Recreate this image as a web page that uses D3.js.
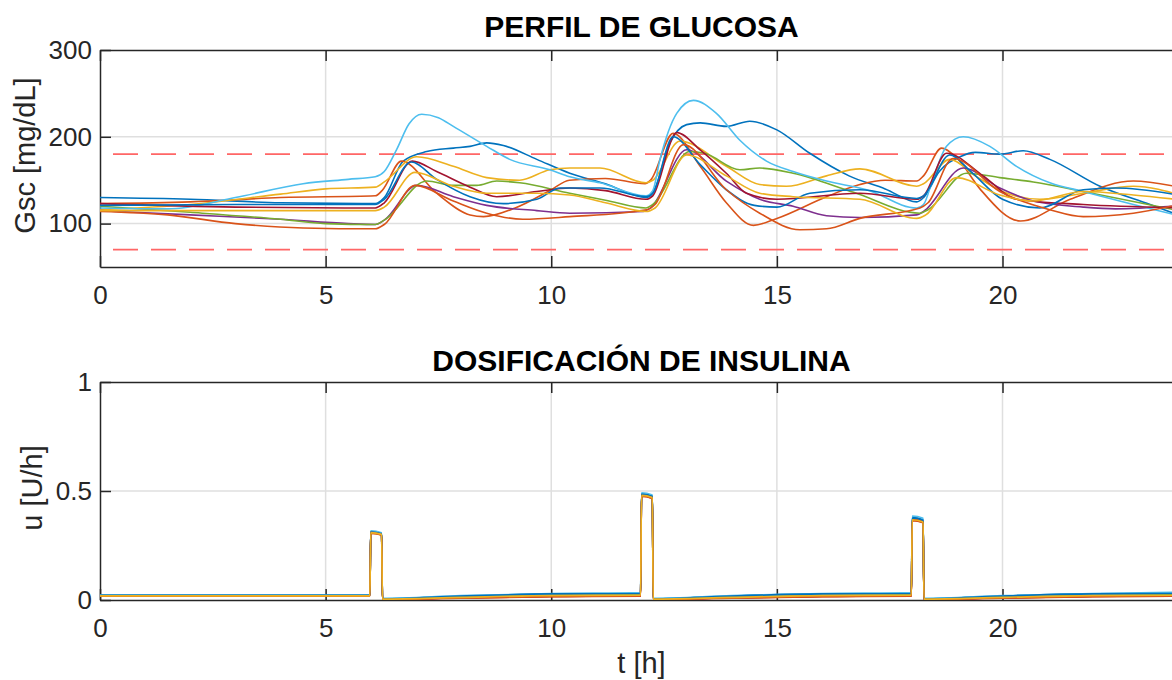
<!DOCTYPE html>
<meta charset='utf-8'>
<style>
body { margin: 0; background: #fff; }
svg { display: block; font-family: 'Liberation Sans', Arial, sans-serif; }
.axis path, .axis line { stroke: #262626; stroke-width: 1.5px; }
.axis text { fill: #262626; font-size: 26px; font-family: 'Liberation Sans', Arial, sans-serif; }
.grid line { stroke: #dfdfdf; stroke-width: 1.5px; }
.title { font-weight: bold; font-size: 30px; fill: #000; }
.label { font-size: 29px; fill: #262626; }
.limit { fill: none; stroke: #ff6666; stroke-width: 1.6px; stroke-dasharray: 25,13; stroke-dashoffset: 25; }
.series { fill: none; stroke-width: 1.6px; stroke-linejoin: round; }
</style>
<svg id='chart' width='1172' height='680'></svg>
<script src="https://d3js.org/d3.v7.min.js"></script>
<script>
// ticks and limits
const hourTicks = [0, 5, 10, 15, 20];
const glucoseTicks = [100, 200, 300];
const insulinTicks = [0, 0.5, 1];
const glucoseLimits = [70, 180];

// matlab default colour order, 10 patients
const patientColors = ['#0072BD', '#D95319', '#EDB120', '#7E2F8E', '#77AC30',
                       '#4DBEEE', '#A2142F', '#0072BD', '#D95319', '#EDB120'];

// glucose [t (h), Gsc (mg/dL)]
const gluc1 = [[0,130],[2,128],[4,124],[6.1,123],[6.3,130],[6.72,172],[7.24,183],[7.83,187],[8.2,189],[8.57,193],[8.94,190],[9.68,174],[10.41,158],[11.2,146],[12.1,130],[12.25,135],[12.63,193],[13.0,214],[13.3,216],[13.88,212],[14.4,218],[15.0,208],[15.73,181],[16.6,155],[17.4,140],[18.1,125],[18.25,130],[18.6,160],[19.06,177],[19.4,182],[19.94,180],[20.46,184],[21.05,174],[22.16,143],[23.27,122],[24,108]];
const gluc2 = [[0,123],[2,125],[4,130],[6.1,132],[6.25,138],[6.68,172],[7.46,135],[8.2,110],[8.5,108],[9.2,118],[10.0,139],[10.4,150],[11.2,152],[12.08,146],[12.2,150],[12.7,204],[13.3,166],[13.88,124],[14.48,98],[15.0,106],[16.1,131],[16.84,145],[17.4,150],[18.1,149],[18.25,155],[18.65,187],[19.0,175],[19.5,140],[20.4,103],[21.5,128],[22.9,149],[24,141]];
const gluc3 = [[0,116],[2,122],[4,134],[5,140],[6.1,142],[6.3,148],[7.02,177],[7.83,166],[8.57,153],[9.3,150],[9.97,162],[10.41,164],[11.08,164],[12.1,147],[12.25,150],[12.85,195],[13.88,166],[14.62,145],[15.21,143],[16.1,155],[16.84,163],[18.1,143],[18.25,146],[18.83,174],[19.4,155],[20.0,137],[20.83,128],[21.79,135],[22.9,143],[24,132]];
const gluc4 = [[0,115],[2,110],[4,105],[5.5,100],[6.1,99],[6.3,104],[7.02,144],[7.83,131],[8.57,121],[9.68,115],[10.41,112],[12.04,114],[12.2,118],[13.0,185],[13.88,149],[14.62,128],[15.36,120],[16.1,109],[16.84,107],[18.1,110],[18.25,114],[19.13,164],[19.94,141],[20.68,126],[21.79,119],[22.5,117],[24,121]];
const gluc5 = [[0,120],[2,113],[4,105],[5,100],[6.1,99],[6.3,104],[7.24,149],[7.83,144],[8.35,144],[8.79,149],[9.3,147],[10.41,135],[11.2,127],[12.1,118],[12.25,122],[13.07,183],[13.4,181],[14.18,162],[14.62,164],[15.36,158],[16.7,136],[18.17,112],[18.35,116],[19.2,158],[19.94,153],[20.68,148],[21.79,137],[24,114]];
const gluc6 = [[0,118],[1.5,117],[3,130],[4.5,146],[5.5,151],[6.1,154],[6.3,160],[6.57,185],[6.85,215],[7.13,226],[7.5,222],[7.83,212],[8.57,189],[9.08,174],[9.97,162],[10.41,154],[11.08,147],[12.1,132],[12.25,138],[12.41,174],[12.78,227],[13.15,242],[13.66,227],[14.18,196],[14.77,172],[15.36,160],[16.1,149],[16.99,139],[18.1,118],[18.25,122],[18.45,150],[18.76,189],[19.13,200],[19.72,189],[20.31,166],[21.05,147],[21.79,137],[22.9,122],[24,108]];
const gluc7 = [[0,123],[3,119],[6.1,118],[6.3,124],[6.92,172],[7.46,160],[8.2,142],[8.79,131],[9.68,137],[10.41,141],[11.2,138],[12.1,128],[12.25,132],[12.78,205],[13.3,185],[13.88,158],[14.33,135],[15.0,128],[16.84,135],[18.1,128],[18.25,132],[18.76,181],[19.57,155],[20.31,128],[21.79,122],[24,118]];
const gluc8 = [[0,121],[3,122],[6.1,122],[6.3,128],[6.9,171],[7.46,151],[8.2,131],[8.94,123],[9.68,128],[10.2,141],[11.08,141],[12.1,131],[12.25,135],[12.7,200],[13.3,168],[13.88,139],[14.5,121],[15.0,119],[15.73,135],[16.84,139],[18.1,129],[18.25,132],[18.83,179],[19.3,160],[20.0,128],[20.83,118],[21.79,139],[22.5,141],[24,132]];
const gluc9 = [[0,114],[1.5,110],[3,100],[4.5,95],[6.1,94],[6.3,99],[6.98,144],[7.83,126],[8.57,112],[9.37,105],[10.41,108],[12.11,116],[12.3,122],[12.93,191],[13.88,139],[14.62,112],[15.51,93],[16.1,94],[16.84,106],[18.17,118],[18.35,124],[18.9,175],[19.94,137],[21.05,116],[21.79,108],[22.9,112],[24,123]];
const gluc10 = [[0,115],[3,115],[6.1,115],[6.3,119],[6.98,159],[7.83,143],[8.57,135],[9.68,135],[10.41,133],[11.2,124],[12.1,114],[12.3,118],[13.0,179],[13.88,155],[14.62,135],[15.36,131],[16.84,128],[18.1,106],[18.3,110],[18.98,153],[19.94,133],[20.68,126],[21.79,137],[22.9,133],[24,127]];

// insulin [t (h), u (U/h)]
const ins1 = [[0,.022],[5.98,.022],[6.0,.314],[6.24,.306],[6.26,.006],[8,.016],[10,.026],[11.98,.03],[12.0,.487],[12.24,.477],[12.26,.006],[14,.018],[16,.028],[17.98,.03],[18.0,.378],[18.24,.368],[18.26,.006],[20,.018],[22,.028],[24,.03]];
const ins2 = [[0,.018],[5.98,.018],[6.0,.306],[6.24,.298],[6.26,.003],[8,.01],[10,.016],[11.98,.018],[12.0,.476],[12.24,.466],[12.26,.003],[14,.01],[16,.016],[17.98,.018],[18.0,.366],[18.24,.356],[18.26,.003],[20,.01],[22,.016],[24,.018]];
const ins3 = [[0,.02],[5.98,.02],[6.0,.309],[6.24,.301],[6.26,.004],[8,.012],[10,.02],[11.98,.022],[12.0,.48],[12.24,.47],[12.26,.004],[14,.012],[16,.02],[17.98,.022],[18.0,.37],[18.24,.36],[18.26,.004],[20,.012],[22,.02],[24,.022]];
const ins4 = [[0,.019],[5.98,.019],[6.0,.31],[6.24,.302],[6.26,.003],[8,.01],[10,.018],[11.98,.02],[12.0,.482],[12.24,.472],[12.26,.003],[14,.01],[16,.018],[17.98,.02],[18.0,.37],[18.24,.36],[18.26,.003],[20,.01],[22,.018],[24,.02]];
const ins5 = [[0,.019],[5.98,.019],[6.0,.31],[6.24,.302],[6.26,.004],[8,.012],[10,.02],[11.98,.024],[12.0,.482],[12.24,.472],[12.26,.004],[14,.012],[16,.02],[17.98,.024],[18.0,.37],[18.24,.36],[18.26,.004],[20,.012],[22,.02],[24,.024]];
const ins6 = [[0,.023],[5.98,.023],[6.0,.317],[6.24,.309],[6.26,.008],[8,.02],[10,.03],[11.98,.034],[12.0,.492],[12.24,.482],[12.26,.008],[14,.02],[16,.03],[17.98,.034],[18.0,.385],[18.24,.375],[18.26,.008],[20,.02],[22,.03],[24,.036]];
const ins7 = [[0,.019],[5.98,.019],[6.0,.31],[6.24,.302],[6.26,.002],[8,.01],[10,.016],[11.98,.02],[12.0,.482],[12.24,.472],[12.26,.002],[14,.01],[16,.016],[17.98,.02],[18.0,.37],[18.24,.36],[18.26,.002],[20,.01],[22,.016],[24,.02]];
const ins8 = [[0,.021],[5.98,.021],[6.0,.312],[6.24,.304],[6.26,.005],[8,.018],[10,.028],[11.98,.03],[12.0,.485],[12.24,.475],[12.26,.005],[14,.018],[16,.028],[17.98,.03],[18.0,.376],[18.24,.366],[18.26,.005],[20,.018],[22,.028],[24,.03]];
const ins9 = [[0,.017],[5.98,.017],[6.0,.306],[6.24,.298],[6.26,.002],[8,.008],[10,.015],[11.98,.018],[12.0,.476],[12.24,.466],[12.26,.002],[14,.008],[16,.015],[17.98,.018],[18.0,.364],[18.24,.354],[18.26,.002],[20,.008],[22,.015],[24,.018]];
const ins10 = [[0,.019],[5.98,.019],[6.0,.309],[6.24,.301],[6.26,.004],[8,.012],[10,.02],[11.98,.022],[12.0,.48],[12.24,.47],[12.26,.004],[14,.012],[16,.02],[17.98,.022],[18.0,.368],[18.24,.358],[18.26,.004],[20,.012],[22,.02],[24,.022]];

const glucose = [gluc1, gluc2, gluc3, gluc4, gluc5, gluc6, gluc7, gluc8, gluc9, gluc10];
const insulin = [ins1, ins2, ins3, ins4, ins5, ins6, ins7, ins8, ins9, ins10];

const svg = d3.select('#chart');
const left = 100, right = 1183;   // right edge of the axes falls outside the window
const tick = 11;

const x = d3.scaleLinear().domain([0, 24]).range([left, right]);

function drawPanel(cfg) {
  const y = d3.scaleLinear().domain(cfg.domain).range([cfg.bottom, cfg.top]);
  const g = svg.append('g');

  g.append('clipPath').attr('id', cfg.id)
    .append('rect')
    .attr('x', left).attr('y', cfg.top)
    .attr('width', right - left).attr('height', cfg.bottom - cfg.top);

  // grid
  const grid = g.append('g').attr('class', 'grid');
  grid.selectAll('line.v')
    .data(hourTicks.filter(d => d > 0))
    .join('line')
      .attr('class', 'v')
      .attr('x1', d => x(d)).attr('x2', d => x(d))
      .attr('y1', cfg.top).attr('y2', cfg.bottom);
  grid.selectAll('line.h')
    .data(cfg.ticks.filter(d => d > cfg.domain[0] && d < cfg.domain[1]))
    .join('line')
      .attr('class', 'h')
      .attr('x1', left).attr('x2', right)
      .attr('y1', d => y(d)).attr('y2', d => y(d));

  // box with inward ticks
  g.append('g').attr('class', 'axis')
    .attr('transform', `translate(0,${cfg.bottom})`)
    .call(d3.axisBottom(x).tickValues(hourTicks).tickSize(-tick).tickSizeOuter(0).tickPadding(19));
  g.append('g').attr('class', 'axis')
    .attr('transform', `translate(0,${cfg.top})`)
    .call(d3.axisTop(x).tickValues(hourTicks).tickSize(-tick).tickSizeOuter(0).tickFormat(''));
  g.append('g').attr('class', 'axis')
    .attr('transform', `translate(${left},0)`)
    .call(d3.axisLeft(y).tickValues(cfg.ticks).tickSize(-tick).tickSizeOuter(0).tickPadding(8).tickFormat(d => String(d)));
  g.append('g').attr('class', 'axis')
    .attr('transform', `translate(${right},0)`)
    .call(d3.axisRight(y).tickValues(cfg.ticks).tickSize(-tick).tickSizeOuter(0).tickFormat(''));

  svg.append('text')
    .attr('class', 'title')
    .attr('x', (left + right) / 2)
    .attr('y', cfg.titleY)
    .attr('text-anchor', 'middle')
    .text(cfg.title);

  svg.append('text')
    .attr('class', 'label')
    .attr('transform', `translate(${cfg.labelX},${(cfg.top + cfg.bottom) / 2 - 3}) rotate(-90)`)
    .attr('text-anchor', 'middle')
    .text(cfg.label);

  const plot = g.append('g').attr('clip-path', `url(#${cfg.id})`);
  return { y, plot };
}

// glucose panel
const glucPanel = drawPanel({
  id: 'clipTop', top: 50, bottom: 267, domain: [50, 300], ticks: glucoseTicks,
  title: 'PERFIL DE GLUCOSA', titleY: 37, label: 'Gsc [mg/dL]', labelX: 35
});

glucPanel.plot.selectAll('line.limit')
  .data(glucoseLimits)
  .join('line')
    .attr('class', 'limit')
    .attr('x1', left).attr('x2', right)
    .attr('y1', d => glucPanel.y(d)).attr('y2', d => glucPanel.y(d));

const glucLine = d3.line()
  .x(d => x(d[0]))
  .y(d => glucPanel.y(d[1]))
  .curve(d3.curveMonotoneX);

glucPanel.plot.selectAll('path.series')
  .data(glucose)
  .join('path')
    .attr('class', 'series')
    .attr('stroke', (d, i) => patientColors[i])
    .attr('d', glucLine);

// insulin panel
const insPanel = drawPanel({
  id: 'clipBot', top: 382, bottom: 600, domain: [0, 1], ticks: insulinTicks,
  title: 'DOSIFICACIÓN DE INSULINA', titleY: 371, label: 'u [U/h]', labelX: 42
});

const insLine = d3.line()
  .x(d => x(d[0]))
  .y(d => insPanel.y(d[1]))
  .curve(d3.curveMonotoneX);

insPanel.plot.selectAll('path.series')
  .data(insulin)
  .join('path')
    .attr('class', 'series')
    .attr('stroke', (d, i) => patientColors[i])
    .attr('d', insLine);

svg.append('text')
  .attr('class', 'label')
  .attr('x', (left + right) / 2)
  .attr('y', 673)
  .attr('text-anchor', 'middle')
  .text('t [h]');
</script>
